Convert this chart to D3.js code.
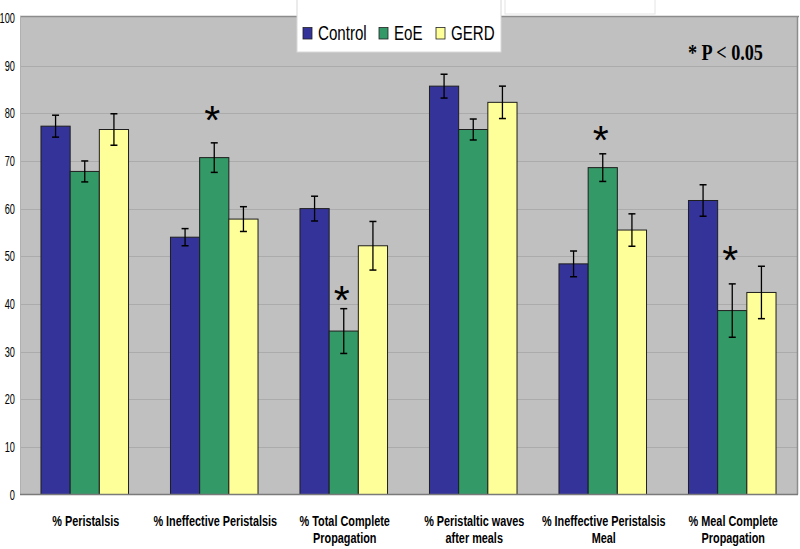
<!DOCTYPE html>
<html>
<head>
<meta charset="utf-8">
<script src="https://cdn.jsdelivr.net/npm/d3@7"></script>
<style>
  html, body { margin: 0; padding: 0; background: #ffffff; }
  svg { display: block; font-family: "Liberation Sans", Arial, sans-serif; }
</style>
</head>
<body>
<div id="chart"></div>
<script>
// ---- Data ----
const categories = [
  "% Peristalsis",
  "% Ineffective Peristalsis",
  "% Total Complete Propagation",
  "% Peristaltic waves after meals",
  "% Ineffective Peristalsis Meal",
  "% Meal Complete Propagation"
];
const categoryLines = [
  ["% Peristalsis"],
  ["% Ineffective Peristalsis"],
  ["% Total Complete", "Propagation"],
  ["% Peristaltic waves", "after meals"],
  ["% Ineffective Peristalsis", "Meal"],
  ["% Meal Complete", "Propagation"]
];
const seriesNames = ["Control", "EoE", "GERD"];
const controlValues = [77.3, 54.0, 60.0, 85.7, 48.4, 61.7];
const controlErrors = [2.3, 1.8, 2.6, 2.5, 2.7, 3.3];
const eoeValues     = [67.8, 70.7, 34.3, 76.6, 68.6, 38.6];
const eoeErrors     = [2.2, 3.1, 4.7, 2.2, 2.9, 5.6];
const gerdValues    = [76.6, 57.8, 52.2, 82.3, 55.5, 42.4];
const gerdErrors    = [3.3, 2.6, 5.1, 3.4, 3.4, 5.5];
// asterisk (significance) marks over the EoE bar, in value units
const sigMarks = [null, 80.6, 43.0, null, 76.6, 51.4];
const yTicks = [0, 10, 20, 30, 40, 50, 60, 70, 80, 90, 100];
const noteText = "* P < 0.05";

// ---- Layout / style ----
const W = 800, H = 549;
const plot = { left: 20, right: 797, top: 16, bottom: 494.5 };
const colors = { Control: "#333399", EoE: "#339966", GERD: "#FFFF99" };

const seriesVals = { Control: controlValues, EoE: eoeValues, GERD: gerdValues };
const seriesErrs = { Control: controlErrors, EoE: eoeErrors, GERD: gerdErrors };

const svg = d3.select("#chart").append("svg")
  .attr("width", W).attr("height", H);

svg.append("rect").attr("width", W).attr("height", H).attr("fill", "#ffffff");

const x0 = d3.scaleBand()
  .domain(categories)
  .range([plot.left, plot.right])
  .paddingInner(0.324)
  .paddingOuter(0.162);
const x1 = d3.scaleBand()
  .domain(seriesNames)
  .range([0, x0.bandwidth()]);
const y = d3.scaleLinear().domain([0, 100]).range([plot.bottom, 18]);

// faint box at top (white area)
svg.append("rect")
  .attr("x", 505).attr("y", -1).attr("width", 150).attr("height", 15)
  .attr("fill", "none").attr("stroke", "#e4e4e4").attr("stroke-width", 1);

// plot background
svg.append("rect")
  .attr("x", plot.left).attr("y", plot.top)
  .attr("width", plot.right - plot.left).attr("height", plot.bottom - plot.top)
  .attr("fill", "#C0C0C0");

// gridlines
svg.append("g").selectAll("line")
  .data(yTicks.filter(t => t > 0 && t < 100))
  .join("line")
  .attr("x1", plot.left).attr("x2", plot.right)
  .attr("y1", d => Math.round(y(d)) + 0.5).attr("y2", d => Math.round(y(d)) + 0.5)
  .attr("stroke", "#ababab").attr("stroke-width", 1);

// plot borders
svg.append("line").attr("x1", plot.left).attr("x2", plot.right + 2)
  .attr("y1", plot.top + 0.5).attr("y2", plot.top + 0.5)
  .attr("stroke", "#8c8c8c").attr("stroke-width", 1.5);
svg.append("line").attr("x1", plot.right + 0.5).attr("x2", plot.right + 0.5)
  .attr("y1", plot.top).attr("y2", plot.bottom)
  .attr("stroke", "#8c8c8c").attr("stroke-width", 1.5);
svg.append("line").attr("x1", plot.left + 0.5).attr("x2", plot.left + 0.5)
  .attr("y1", plot.top).attr("y2", plot.bottom)
  .attr("stroke", "#b0b0b0").attr("stroke-width", 1);

// bars
const groups = svg.append("g").selectAll("g")
  .data(categories)
  .join("g")
  .attr("transform", d => `translate(${x0(d)},0)`);

groups.each(function(cat, i) {
  const g = d3.select(this);
  seriesNames.forEach(s => {
    const v = seriesVals[s][i];
    const e = seriesErrs[s][i];
    const bx = x1(s);
    const bw = x1.bandwidth();
    g.append("rect")
      .attr("x", bx).attr("y", y(v))
      .attr("width", bw).attr("height", y(0) - y(v))
      .attr("fill", colors[s])
      .attr("stroke", "#1e1e1e").attr("stroke-width", 1);
    const cx = bx + bw / 2;
    g.append("line")
      .attr("x1", cx).attr("x2", cx)
      .attr("y1", y(v + e)).attr("y2", y(v - e))
      .attr("stroke", "#000").attr("stroke-width", 1.3);
    [v + e, v - e].forEach(t => {
      g.append("line")
        .attr("x1", cx - 3.5).attr("x2", cx + 3.5)
        .attr("y1", y(t)).attr("y2", y(t))
        .attr("stroke", "#000").attr("stroke-width", 1.5);
    });
  });
  if (sigMarks[i] != null) {
    const cx = x1("EoE") + x1.bandwidth() / 2 - 2;
    g.append("text")
      .attr("x", cx).attr("y", y(sigMarks[i]) + 24)
      .attr("text-anchor", "middle")
      .attr("font-size", 41)
      .attr("fill", "#000")
      .text("*");
  }
});

// axis line at bottom
svg.append("line").attr("x1", plot.left).attr("x2", plot.right + 1)
  .attr("y1", plot.bottom).attr("y2", plot.bottom)
  .attr("stroke", "#7a7a7a").attr("stroke-width", 1.5);

// squeezed-text helper (the original picture's text is horizontally narrow)
function stext(parent, x, yy, str, size, anchor, weight, family, sx) {
  const g = parent.append("g")
    .attr("transform", `translate(${x},${yy}) scale(${sx},1)`);
  const t = g.append("text")
    .attr("x", 0).attr("y", 0)
    .attr("text-anchor", anchor)
    .attr("font-size", size)
    .attr("font-weight", weight || "normal")
    .attr("fill", "#000")
    .text(str);
  if (family) t.attr("font-family", family);
  return g;
}

// y tick labels
const yAxisG = svg.append("g");
yTicks.forEach(t => {
  stext(yAxisG, 15, y(t) + 5, String(t), 14, "end", "normal", null, 0.66);
});

// x category labels
const xAxisG = svg.append("g");
categories.forEach((c, i) => {
  const cx = x0(c) + x0.bandwidth() / 2 + 1;
  categoryLines[i].forEach((line, j) => {
    stext(xAxisG, cx, 526 + j * 17, line, 14.5, "middle", "bold", null, 0.75);
  });
});

// legend
const legend = svg.append("g");
legend.append("rect")
  .attr("x", 297).attr("y", -1).attr("width", 204).attr("height", 53)
  .attr("fill", "#ffffff").attr("stroke", "#d8d8d8").attr("stroke-width", 1);
const legendX = [303, 379, 436];
seriesNames.forEach((s, i) => {
  legend.append("rect")
    .attr("x", legendX[i]).attr("y", 27.5)
    .attr("width", 9).attr("height", 11.5)
    .attr("fill", colors[s]).attr("stroke", "#222").attr("stroke-width", 0.8);
  stext(legend, legendX[i] + 15, 40, s, 21, "start", "normal", null, 0.72);
});

// note
stext(svg, 688, 60, noteText, 23, "start", "bold", "'Liberation Serif', 'Times New Roman', serif", 0.79);
</script>
</body>
</html>
